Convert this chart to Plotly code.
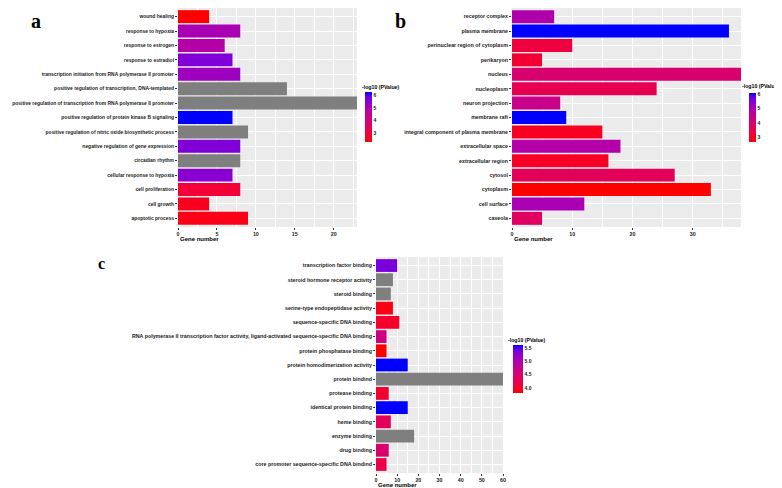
import plotly.graph_objects as go

# ---- panel a : biological process ----
bp_terms = [
    "wound healing", "response to hypoxia", "response to estrogen", "response to estradiol",
    "transcription initiation from RNA polymerase II promoter",
    "positive regulation of transcription, DNA-templated",
    "positive regulation of transcription from RNA polymerase II promoter",
    "positive regulation of protein kinase B signaling",
    "positive regulation of nitric oxide biosynthetic process",
    "negative regulation of gene expression", "circadian rhythm",
    "cellular response to hypoxia", "cell proliferation", "cell growth", "apoptotic process",
]
bp_counts = [4, 8, 6, 7, 8, 14, 23, 7, 9, 8, 8, 7, 8, 4, 9]
bp_logp = [2.3, 5.0, 4.8, 5.6, 5.2, None, None, 6.25, None, 5.6, None, 5.5, 2.9, 2.6, 2.5]

# ---- panel b : cellular component ----
cc_terms = [
    "receptor complex", "plasma membrane", "perinuclear region of cytoplasm", "perikaryon",
    "nucleus", "nucleoplasm", "neuron projection", "membrane raft",
    "integral component of plasma membrane", "extracellular space", "extracellular region",
    "cytosol", "cytoplasm", "cell surface", "caveola",
]
cc_counts = [7, 36, 10, 5, 38, 24, 8, 9, 15, 18, 16, 27, 33, 12, 5]
cc_logp = [4.9, 6.07, 3.3, 3.15, 4.0, 3.55, 4.4, 6.07, 2.95, 4.85, 3.0, 3.7, 2.7, 5.0, 3.8]

# ---- panel c : molecular function ----
mf_terms = [
    "transcription factor binding", "steroid hormone receptor activity", "steroid binding",
    "serine-type endopeptidase activity", "sequence-specific DNA binding",
    "RNA polymerase II transcription factor activity, ligand-activated sequence-specific DNA binding",
    "protein phosphatase binding", "protein homodimerization activity", "protein bindind",
    "protease binding", "identical protein binding", "heme binding", "enzyme binding",
    "drug binding", "core promoter sequence-specific DNA bindind",
]
mf_counts = [10, 8, 7, 8, 11, 5, 5, 15, 60, 6, 15, 7, 18, 6, 5]
mf_logp = [5.35, None, None, 3.9, 4.0, 4.65, 3.81, 5.61, None, 4.05, 5.61, 4.35, None, 4.5, 4.2]


# red -> blue gradient interpolated in CIELAB, like ggplot's scale_fill_gradient
def _lin(c):
    return c / 12.92 if c <= 0.04045 else ((c + 0.055) / 1.055) ** 2.4


def _gam(c):
    c = max(0.0, min(1.0, c))
    return 12.92 * c if c <= 0.0031308 else 1.055 * c ** (1 / 2.4) - 0.055


def rgb2lab(rgb):
    r, g, b = [_lin(v / 255) for v in rgb]
    x = (0.4124 * r + 0.3576 * g + 0.1805 * b) / 0.95047
    y = 0.2126 * r + 0.7152 * g + 0.0722 * b
    z = (0.0193 * r + 0.1192 * g + 0.9505 * b) / 1.08883
    f = lambda t: t ** (1 / 3) if t > 0.008856 else 7.787 * t + 16 / 116
    fx, fy, fz = f(x), f(y), f(z)
    return 116 * fy - 16, 500 * (fx - fy), 200 * (fy - fz)


def lab2rgb(lab):
    L, a, b = lab
    fy = (L + 16) / 116
    fx = fy + a / 500
    fz = fy - b / 200
    finv = lambda t: t ** 3 if t ** 3 > 0.008856 else (t - 16 / 116) / 7.787
    x, y, z = finv(fx) * 0.95047, finv(fy), finv(fz) * 1.08883
    r = 3.2406 * x - 1.5372 * y - 0.4986 * z
    g = -0.9689 * x + 1.8758 * y + 0.0415 * z
    bb = 0.0557 * x - 0.2040 * y + 1.0570 * z
    return "rgb(%d,%d,%d)" % tuple(round(_gam(v) * 255) for v in (r, g, bb))


lo, hi = rgb2lab((255, 0, 0)), rgb2lab((0, 0, 255))
n = 12
scale = [[i / (n - 1), lab2rgb([lo[k] + (hi[k] - lo[k]) * i / (n - 1) for k in range(3)])]
         for i in range(n)]

NA_GREY = "#7F7F7F"
# the page body has an 8px margin, so lay the figure out in window pixels minus that
OFF = 8
FW, FH = 782 - OFF, 488 - OFF
FONT = "Liberation Sans"


def px(x):
    return (x - OFF) / FW


def py(y):
    return 1 - (y - OFF) / FH


panels = [
    dict(terms=bp_terms, counts=bp_counts, logp=bp_logp, xd=(178, 357), yd=(8, 227),
         xmax=23, dtick=5, cmin=2.3, cmax=6.25, tickvals=[3, 4, 5, 6], fmt="d",
         cb=(365, 92, 50, 7), cbt=(360, 87), letter=("a", 29, 8, 20), ysize=4.95),
    dict(terms=cc_terms, counts=cc_counts, logp=cc_logp, xd=(512, 741), yd=(8, 227),
         xmax=38, dtick=10, cmin=2.7, cmax=6.07, tickvals=[3, 4, 5, 6], fmt="d",
         cb=(749, 93, 49, 7), cbt=(740, 86), letter=("b", 393, 8, 20), ysize=5.3),
    dict(terms=mf_terms, counts=mf_counts, logp=mf_logp, xd=(376, 503), yd=(257, 473),
         xmax=60, dtick=10, cmin=3.81, cmax=5.61, tickvals=[4.0, 4.5, 5.0, 5.5], fmt=".1f",
         cb=(513, 345, 48, 10), cbt=(506, 340), letter=("c", 96, 253, 16), ysize=5.3),
]

fig = go.Figure()
annotations = []
layout = {}

for i, p in enumerate(panels, start=1):
    sfx = "" if i == 1 else str(i)
    xa, ya, ca = "x" + sfx, "y" + sfx, "coloraxis" + sfx

    col_t = [t for t, v in zip(p["terms"], p["logp"]) if v is not None]
    col_c = [c for c, v in zip(p["counts"], p["logp"]) if v is not None]
    col_v = [v for v in p["logp"] if v is not None]
    na_t = [t for t, v in zip(p["terms"], p["logp"]) if v is None]
    na_c = [c for c, v in zip(p["counts"], p["logp"]) if v is None]

    fig.add_trace(go.Bar(
        x=col_c, y=col_t, orientation="h", width=0.9, xaxis=xa, yaxis=ya,
        marker=dict(color=col_v, coloraxis=ca, line=dict(width=0)),
        showlegend=False,
    ))
    if na_t:
        fig.add_trace(go.Bar(
            x=na_c, y=na_t, orientation="h", width=0.9, xaxis=xa, yaxis=ya,
            marker=dict(color=NA_GREY, line=dict(width=0)), showlegend=False,
        ))

    x0, x1 = p["xd"]
    y0, y1 = p["yd"]
    nrow = len(p["terms"])
    layout["xaxis" + sfx] = dict(
        domain=[px(x0), px(x1)], anchor=ya, range=[0, p["xmax"]], dtick=p["dtick"],
        showgrid=True, gridcolor="white", gridwidth=1, zeroline=False,
        minor=dict(showgrid=True, gridcolor="white", gridwidth=0.5, dtick=p["dtick"] / 2),
        ticks="outside", ticklen=2, tickcolor="#333333",
        tickfont=dict(family=FONT, size=5.3, color="#1a1a1a", weight="bold"),
        showline=False, fixedrange=True, automargin=False,
    )
    layout["yaxis" + sfx] = dict(
        domain=[py(y1), py(y0)], anchor=xa, type="category",
        categoryorder="array", categoryarray=p["terms"],
        range=[nrow - 0.4, -0.6],
        showgrid=True, gridcolor="white", gridwidth=1, zeroline=False,
        ticks="outside", ticklen=2, tickcolor="#333333",
        tickfont=dict(family=FONT, size=p["ysize"], color="#1a1a1a", weight="bold"),
        fixedrange=True, automargin=False,
    )
    cbx, cby, cblen, cbth = p["cb"]
    layout[ca] = dict(
        cmin=p["cmin"], cmax=p["cmax"], colorscale=scale,
        colorbar=dict(
            x=px(cbx), xanchor="left", y=py(cby), yanchor="top",
            len=cblen, lenmode="pixels", thickness=cbth, thicknessmode="pixels",
            xpad=0, ypad=0, outlinewidth=0, ticks="", tickvals=p["tickvals"],
            tickformat=p["fmt"],
            tickfont=dict(family=FONT, size=5, color="#1a1a1a", weight="bold"),
        ),
    )
    tx, ty = p["cbt"]
    annotations.append(dict(
        text="-log10 (PValue)", x=px(tx), y=py(ty), xref="paper", yref="paper",
        xanchor="left", yanchor="middle", showarrow=False,
        font=dict(family=FONT, size=5.2, color="black", weight="bold"),
    ))
    # axis title, left-aligned under the panel
    annotations.append(dict(
        text="Gene number", x=px(x0), y=py(y1 + 7), xref="paper", yref="paper",
        xanchor="left", yanchor="top", showarrow=False,
        font=dict(family=FONT, size=6, color="black", weight="bold"),
    ))
    lt, lx, ly, ls = p["letter"]
    annotations.append(dict(
        text="<b>%s</b>" % lt, x=px(lx), y=py(ly), xref="paper", yref="paper",
        xanchor="left", yanchor="top", showarrow=False,
        font=dict(family="Liberation Serif", size=ls, color="black"),
    ))

fig.update_layout(
    width=FW, height=FH, margin=dict(l=0, r=0, t=0, b=0, autoexpand=False),
    paper_bgcolor="white", plot_bgcolor="#EBEBEB",
    barmode="overlay", bargap=0.1,
    annotations=annotations,
    **layout,
)

fig.write_html("out.html")
